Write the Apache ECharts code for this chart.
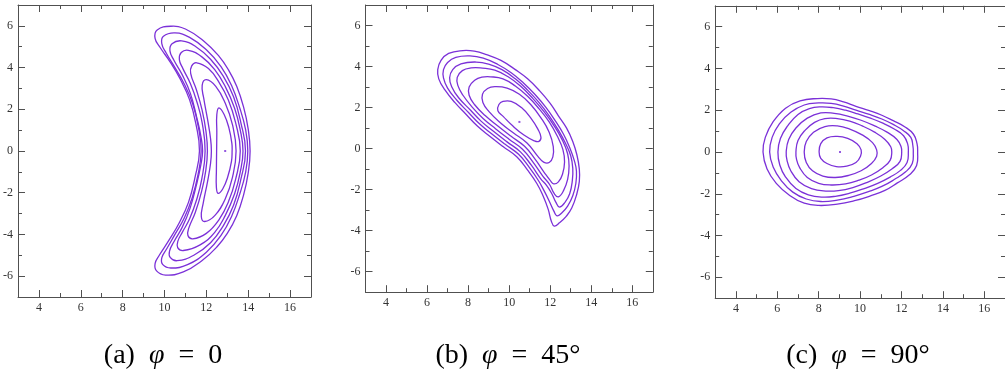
<!DOCTYPE html>
<html>
<head>
<meta charset="utf-8">
<script src="https://cdn.jsdelivr.net/npm/echarts@6/dist/echarts.min.js"></script>
<style>
html, body { margin: 0; padding: 0; background: #fff; }
#main { width: 1005px; height: 378px; }
</style>
</head>
<body>
<div id="main"></div>
<script>
// ticks
var xMajor = [4, 6, 8, 10, 12, 14, 16];
var xMinor = [5, 7, 9, 11, 13, 15];
var yMajor = [-6, -4, -2, 0, 2, 4, 6];
var yMinor = [-5, -3, -1, 1, 3, 5];

// captions
var capLetters = ['(a)', '(b)', '(c)'];
var capAngles = ['0', '45°', '90°'];

// panel (a) phi = 0 : crescent contours, outer -> inner (closed loops)
var a1 = [[13.45,3.1],[13.78,2.1],[14.0,1.05],[14.09,0],[14.0,-1.05],[13.78,-2.1],[13.45,-3.1],[13.0,-3.95],[12.5,-4.6],[11.8,-5.25],[10.9,-5.8],[10.05,-5.95],[9.62,-5.75],[9.55,-5.4],[9.75,-5.0],[10.2,-4.3],[10.7,-3.45],[11.15,-2.45],[11.45,-1.3],[11.67,0],[11.5,1.3],[11.2,2.45],[10.75,3.45],[10.25,4.3],[9.8,4.95],[9.55,5.4],[9.65,5.8],[10.3,5.98],[11.0,5.85],[11.9,5.25],[12.6,4.55],[13.05,3.9]];
var a2 = [[13.2,3.15],[13.6,2.05],[13.88,1.0],[13.98,0],[13.88,-1.0],[13.6,-2.05],[13.2,-3.15],[12.7,-4.05],[12.0,-4.85],[11.1,-5.45],[10.3,-5.61],[9.92,-5.45],[9.87,-5.12],[10.1,-4.7],[10.5,-4.0],[10.95,-3.2],[11.32,-2.25],[11.6,-1.15],[11.75,0],[11.62,1.15],[11.35,2.25],[10.95,3.2],[10.5,4.0],[10.08,4.7],[9.87,5.15],[9.95,5.5],[10.5,5.66],[11.2,5.45],[12.0,4.85],[12.7,4.05]];
var a3 = [[13.3,2.6],[13.65,1.35],[13.87,0],[13.65,-1.35],[13.3,-2.6],[12.8,-3.6],[12.2,-4.4],[11.4,-5.0],[10.6,-5.26],[10.27,-5.1],[10.24,-4.8],[10.45,-4.35],[10.85,-3.65],[11.22,-2.75],[11.52,-1.65],[11.73,-0.7],[11.82,0],[11.74,0.7],[11.53,1.65],[11.24,2.75],[10.85,3.65],[10.45,4.35],[10.26,4.8],[10.36,5.14],[10.82,5.28],[11.5,5.0],[12.2,4.4],[12.8,3.6]];
var a4 = [[13.35,2.05],[13.62,1.0],[13.75,0],[13.62,-1.0],[13.35,-2.05],[12.9,-3.1],[12.4,-3.9],[11.7,-4.5],[10.9,-4.77],[10.63,-4.63],[10.64,-4.32],[10.85,-3.9],[11.2,-3.25],[11.53,-2.35],[11.78,-1.35],[11.94,0],[11.8,1.35],[11.55,2.35],[11.23,3.25],[10.88,3.95],[10.71,4.38],[10.8,4.72],[11.14,4.83],[11.8,4.5],[12.4,3.9],[12.9,3.1]];
var a5 = [[13.05,2.45],[13.4,1.35],[13.62,0],[13.4,-1.35],[13.05,-2.45],[12.6,-3.3],[12.0,-3.95],[11.35,-4.21],[11.12,-4.05],[11.16,-3.7],[11.47,-2.95],[11.77,-1.95],[11.97,-0.95],[12.05,0],[11.98,0.95],[11.8,1.95],[11.52,2.95],[11.25,3.72],[11.3,4.08],[11.54,4.23],[12.1,3.95],[12.6,3.3]];
var a6 = [[12.9,2.3],[13.25,1.25],[13.42,0],[13.25,-1.25],[12.9,-2.3],[12.4,-3.1],[11.92,-3.38],[11.76,-3.15],[11.85,-2.5],[12.05,-1.5],[12.2,-0.6],[12.24,0],[12.2,0.6],[12.06,1.5],[11.88,2.5],[11.8,3.15],[12.0,3.42],[12.45,3.1]];
var a7 = [[13.08,1.1],[13.22,0.35],[13.23,0],[13.2,-0.5],[13.02,-1.25],[12.78,-1.82],[12.56,-2.03],[12.48,-1.75],[12.48,-0.9],[12.49,0],[12.5,0.9],[12.5,1.75],[12.6,2.07],[12.85,1.75]];
var aCenter = [[12.9, 0]];

// panel (b) phi = 45
var b1 = [[10.9,3.4],[11.5,2.8],[12.0,2.2],[12.4,1.6],[12.8,1.0],[13.1,0.35],[13.3,-0.3],[13.42,-1.0],[13.42,-1.6],[13.3,-2.2],[13.05,-2.9],[12.78,-3.3],[12.45,-3.62],[12.2,-3.78],[12.06,-3.55],[11.9,-2.95],[11.65,-2.3],[11.35,-1.7],[10.9,-1.05],[10.37,-0.4],[9.7,0.1],[9.07,0.59],[8.45,1.1],[7.93,1.64],[7.35,2.25],[6.87,2.86],[6.57,3.4],[6.52,3.85],[6.68,4.3],[7.05,4.64],[7.75,4.78],[8.3,4.75],[8.9,4.58],[9.6,4.3],[10.3,3.85]];
var b2 = [[10.7,3.2],[11.25,2.65],[11.8,2.0],[12.25,1.35],[12.65,0.7],[12.95,0.05],[13.18,-0.6],[13.28,-1.1],[13.25,-1.7],[13.1,-2.3],[12.85,-2.8],[12.55,-3.15],[12.33,-3.28],[12.18,-3.05],[11.95,-2.55],[11.7,-2.05],[11.44,-1.58],[10.99,-0.93],[10.46,-0.28],[9.79,0.22],[9.16,0.71],[8.54,1.22],[8.02,1.76],[7.44,2.37],[7.0,2.95],[6.8,3.45],[6.8,3.85],[7.0,4.2],[7.4,4.45],[8.09,4.52],[8.74,4.41],[9.45,4.1],[10.1,3.7]];
var b3 = [[10.9,2.85],[11.45,2.25],[11.95,1.6],[12.4,0.9],[12.75,0.25],[13.0,-0.35],[13.1,-0.95],[13.08,-1.55],[12.95,-2.2],[12.72,-2.62],[12.45,-2.85],[12.28,-2.62],[12.08,-2.2],[11.83,-1.8],[11.53,-1.46],[11.08,-0.81],[10.55,-0.16],[9.88,0.34],[9.25,0.83],[8.63,1.34],[8.11,1.88],[7.53,2.49],[7.2,3.02],[7.1,3.45],[7.25,3.85],[7.65,4.13],[8.4,4.22],[9.0,4.12],[9.65,3.85],[10.3,3.4]];
var b4 = [[11.15,2.45],[11.7,1.8],[12.2,1.1],[12.6,0.4],[12.85,-0.25],[12.92,-0.85],[12.85,-1.5],[12.65,-2.05],[12.4,-2.35],[12.2,-2.2],[11.97,-1.75],[11.63,-1.33],[11.18,-0.68],[10.65,-0.03],[9.98,0.47],[9.35,0.96],[8.73,1.47],[8.21,2.01],[7.75,2.6],[7.5,3.08],[7.47,3.47],[7.72,3.8],[8.15,3.93],[8.7,3.92],[9.3,3.82],[9.95,3.5],[10.55,3.05]];
var b5 = [[11.45,1.95],[11.95,1.3],[12.35,0.6],[12.62,-0.05],[12.7,-0.65],[12.6,-1.25],[12.4,-1.62],[12.17,-1.72],[12.0,-1.55],[11.73,-1.19],[11.28,-0.54],[10.75,0.11],[10.08,0.61],[9.45,1.1],[8.83,1.61],[8.31,2.15],[8.05,2.6],[8.05,3.0],[8.32,3.33],[8.67,3.48],[9.1,3.5],[9.7,3.4],[10.3,3.05],[10.9,2.55]];
var b6 = [[11.55,1.5],[11.95,0.8],[12.15,0.1],[12.13,-0.4],[11.95,-0.68],[11.68,-0.66],[11.4,-0.38],[10.87,0.27],[10.2,0.77],[9.57,1.26],[9.02,1.8],[8.72,2.25],[8.7,2.65],[8.95,2.93],[9.3,3.02],[9.9,2.95],[10.5,2.65],[11.05,2.15]];
var b7 = [[10.6,2.0],[11.05,1.5],[11.4,0.95],[11.55,0.55],[11.45,0.35],[11.22,0.38],[10.72,0.66],[10.17,1.11],[9.72,1.56],[9.45,1.85],[9.5,2.15],[9.7,2.3],[10.1,2.3]];
var bCenter = [[10.5, 1.3]];

// panel (c) phi = 90
var c1 = [[10.45,1.98],[11.05,1.76],[11.6,1.5],[12.17,1.2],[12.58,0.85],[12.75,0.4],[12.78,0],[12.73,-0.65],[12.4,-1.08],[11.8,-1.48],[11.2,-1.84],[10.5,-2.1],[9.78,-2.32],[8.9,-2.5],[8.0,-2.56],[7.3,-2.45],[6.6,-2.08],[5.95,-1.5],[5.5,-0.8],[5.31,0],[5.42,0.7],[5.8,1.45],[6.4,2.1],[7.1,2.45],[7.94,2.56],[8.6,2.54],[9.2,2.4],[9.8,2.19]];
var c2 = [[10.45,1.8],[11.05,1.58],[11.6,1.32],[12.1,1.02],[12.45,0.7],[12.55,0.3],[12.57,0],[12.52,-0.55],[12.2,-0.95],[11.65,-1.32],[11.05,-1.65],[10.4,-1.9],[9.7,-2.12],[8.9,-2.3],[8.1,-2.37],[7.4,-2.25],[6.75,-1.92],[6.2,-1.38],[5.8,-0.72],[5.63,0],[5.75,0.7],[6.1,1.35],[6.65,1.9],[7.3,2.25],[8.0,2.35],[8.6,2.33],[9.2,2.2],[9.8,2.0]];
var c3 = [[10.5,1.62],[11.1,1.38],[11.65,1.1],[12.1,0.78],[12.3,0.38],[12.33,0],[12.27,-0.5],[11.95,-0.88],[11.45,-1.2],[10.85,-1.5],[10.2,-1.75],[9.5,-1.97],[8.8,-2.12],[8.18,-2.16],[7.5,-2.05],[6.9,-1.75],[6.4,-1.2],[6.12,-0.62],[6.03,0],[6.15,0.65],[6.5,1.25],[7.0,1.8],[7.55,2.08],[8.1,2.16],[8.7,2.12],[9.3,2.0],[9.9,1.82]];
var c4 = [[10.05,1.52],[10.7,1.25],[11.3,0.95],[11.78,0.6],[11.98,0.25],[12.01,0],[11.93,-0.45],[11.55,-0.8],[11.0,-1.15],[10.35,-1.45],[9.65,-1.7],[8.95,-1.85],[8.34,-1.87],[7.65,-1.75],[7.05,-1.42],[6.65,-0.9],[6.47,-0.4],[6.43,0],[6.55,0.6],[6.9,1.15],[7.45,1.62],[8.1,1.87],[8.75,1.85],[9.4,1.72]];
var c5 = [[10.1,1.25],[10.7,0.95],[11.2,0.6],[11.48,0.25],[11.53,0],[11.45,-0.4],[11.1,-0.75],[10.55,-1.1],[9.95,-1.35],[9.3,-1.53],[8.6,-1.58],[8.0,-1.5],[7.45,-1.22],[7.08,-0.75],[6.93,-0.35],[6.9,0],[7.0,0.55],[7.35,1.05],[7.8,1.42],[8.3,1.6],[8.9,1.6],[9.5,1.48]];
var c6 = [[9.5,1.1],[10.1,0.82],[10.6,0.45],[10.8,0.1],[10.8,-0.2],[10.55,-0.55],[10.05,-0.9],[9.45,-1.12],[8.8,-1.22],[8.2,-1.15],[7.7,-0.9],[7.4,-0.5],[7.3,0],[7.4,0.5],[7.75,0.95],[8.3,1.22],[8.9,1.25]];
var c7 = [[9.4,0.65],[9.85,0.4],[10.05,0.1],[10.02,-0.2],[9.8,-0.5],[9.35,-0.68],[8.85,-0.7],[8.4,-0.55],[8.1,-0.3],[8.02,0],[8.1,0.4],[8.4,0.68],[8.9,0.75]];
var cCenter = [[9.03, 0]];

var panels = [
    { box: [18, 5, 293, 292], lines: [a1, a2, a3, a4, a5, a6, a7], dot: aCenter, capX: 163 },
    { box: [365.5, 5, 287.3, 287.2], lines: [b1, b2, b3, b4, b5, b6, b7], dot: bCenter, capX: 508 },
    { box: [715.2, 5.8, 292.4, 292.4], lines: [c1, c2, c3, c4, c5, c6, c7], dot: cCenter, capX: 858 }
];

var lineColor = '#7b30d8';
var frameColor = '#505050';

function makeAxis(g, pos, min, max, vals, len, showLine, showLabel) {
    return {
        type: 'value',
        gridIndex: g,
        position: pos,
        min: min,
        max: max,
        axisLine: { show: showLine, onZero: false, lineStyle: { color: frameColor, width: 1 } },
        axisTick: { show: true, inside: true, length: len, customValues: vals, lineStyle: { color: frameColor, width: 1 } },
        axisLabel: { show: showLabel, customValues: vals, fontFamily: 'Liberation Serif', fontSize: 12, color: '#333', margin: 5 },
        splitLine: { show: false }
    };
}

// one closed contour = one custom series; the loop is drawn once, from all its points
function renderLoop(params, api) {
    if (params.dataIndexInside !== 0) return null;
    var pts = [];
    for (var i = 0; i < params.dataInsideLength; i++) {
        pts.push(api.coord([api.value(0, i), api.value(1, i)]));
    }
    return {
        type: 'polygon',
        shape: { points: pts, smooth: 0.45 },
        style: { fill: 'none', stroke: lineColor, lineWidth: 1.3 },
        silent: true
    };
}

var option = {
    animation: false,
    backgroundColor: '#fff',
    grid: [], xAxis: [], yAxis: [], series: [], graphic: []
};

for (var g = 0; g < panels.length; g++) {
    var p = panels[g];
    option.grid.push({ left: p.box[0], top: p.box[1], width: p.box[2], height: p.box[3] });
    var xi = option.xAxis.length;
    var yi = option.yAxis.length;
    option.xAxis.push(makeAxis(g, 'bottom', 3, 17, xMajor, 7, true, true));
    option.xAxis.push(makeAxis(g, 'bottom', 3, 17, xMinor, 4, false, false));
    option.xAxis.push(makeAxis(g, 'top', 3, 17, xMajor, 7, true, false));
    option.xAxis.push(makeAxis(g, 'top', 3, 17, xMinor, 4, false, false));
    option.yAxis.push(makeAxis(g, 'left', -7, 7, yMajor, 7, true, true));
    option.yAxis.push(makeAxis(g, 'left', -7, 7, yMinor, 4, false, false));
    option.yAxis.push(makeAxis(g, 'right', -7, 7, yMajor, 7, true, false));
    option.yAxis.push(makeAxis(g, 'right', -7, 7, yMinor, 4, false, false));

    for (var k = 0; k < p.lines.length; k++) {
        option.series.push({
            type: 'custom',
            xAxisIndex: xi,
            yAxisIndex: yi,
            data: p.lines[k],
            renderItem: renderLoop,
            silent: true
        });
    }
    option.series.push({
        type: 'scatter',
        xAxisIndex: xi,
        yAxisIndex: yi,
        data: p.dot,
        symbol: 'rect',
        symbolSize: 2,
        itemStyle: { color: lineColor },
        silent: true
    });

    option.graphic.push({
        type: 'text',
        x: p.capX,
        y: 356,
        style: {
            text: '{n|' + capLetters[g] + '  }{v|φ}{n|  =  ' + capAngles[g] + '}',
            align: 'center',
            verticalAlign: 'middle',
            fill: '#000',
            rich: {
                n: { fontFamily: 'Liberation Serif', fontSize: 28, color: '#000' },
                v: { fontFamily: 'Liberation Serif', fontSize: 28, fontStyle: 'italic', color: '#000' }
            }
        }
    });
}

var chart = echarts.init(document.getElementById('main'));
chart.setOption(option);
</script>
</body>
</html>
